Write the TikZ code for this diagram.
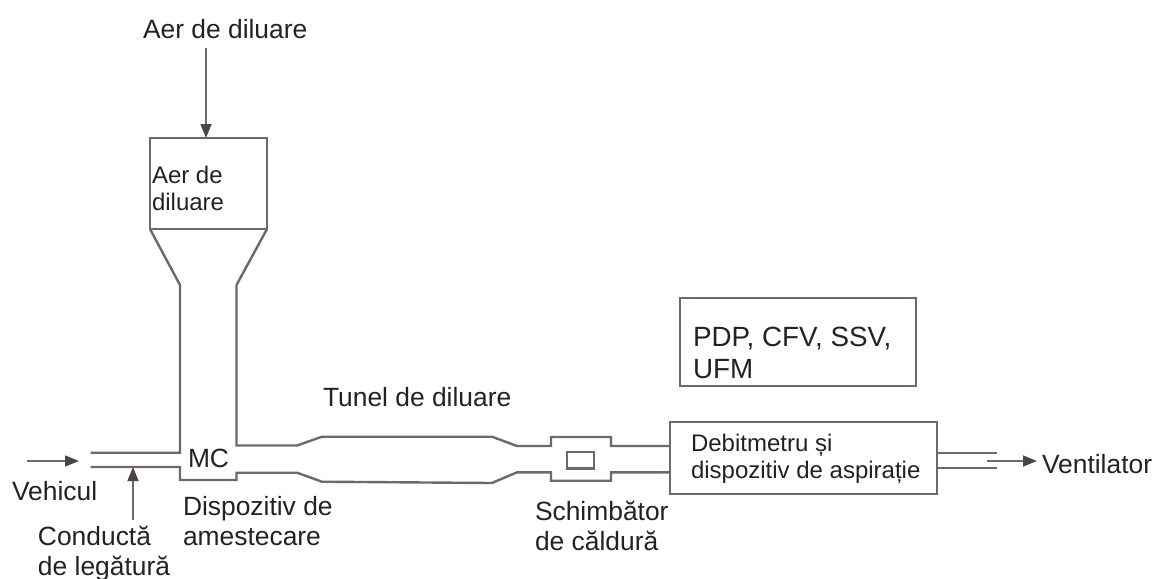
\documentclass[tikz,border=0pt]{standalone}
\usepackage{fontspec}
\setmainfont{Liberation Sans}
\usetikzlibrary{arrows.meta}
\definecolor{wall}{HTML}{6F6865}
\definecolor{tipcol}{HTML}{4A4543}
\definecolor{ink}{HTML}{222222}
\tikzset{
  wallline/.style={draw=wall,line width=1.2pt,line join=miter},
  boxnode/.style={wallline,rectangle,inner sep=0pt,outer sep=0pt},
  flowarrow/.style={draw=wall,line width=1.1pt,-{Stealth[length=7pt,width=5.4pt,inset=0pt,color=tipcol]}},
  biglabel/.style={text=ink,inner sep=0pt,outer sep=0pt,anchor=base west,align=left,font=\fontsize{13.2}{15}\selectfont},
  pdplabel/.style={biglabel,font=\fontsize{13.9}{16}\selectfont},
  smalllabel/.style={biglabel,font=\fontsize{12}{13.3}\selectfont},
}
\begin{document}
\begin{tikzpicture}[x=0.5pt,y=-0.5pt]
\useasboundingbox (0,0) rectangle (1158,579);
% boxes
\node[boxnode,minimum width=58.5pt,minimum height=45.5pt] (airbox) at (208.5,183.5) {};
\node[boxnode,minimum width=118pt,minimum height=44pt] (pdpbox) at (798,342) {};
\node[boxnode,minimum width=133.5pt,minimum height=36pt] (flowbox) at (803.5,458) {};
\node[boxnode,minimum width=13.5pt,minimum height=8.3pt] (hxcore) at (580.5,460) {};
% free ends
\coordinate (airsrc) at (206,48);
\coordinate (vehsrc) at (27,461);
\coordinate (vehend) at (79,461);
\coordinate (linksrc) at (133,520);
\coordinate (linkend) at (133,467);
\coordinate (fanstart) at (987,461);
\coordinate (fanend) at (1037,461);
% funnel and left wall
\draw[wallline] (airbox.south west) -- (180,285) -- (180,452.7) -- (90.5,452.7);
% funnel, right wall, upper wall of tunnel
\draw[wallline] (airbox.south east) -- (236.5,285) -- (236.5,445.5) -- (297,445.5) -- (322,436.7)
  -- (492,436.7) -- (517,446) -- (551,446) -- (551,437) -- (611,437) -- (611,446) -- (flowbox.west |- 0,446);
% lower wall
\draw[wallline] (90.5,467) -- (180,467) -- (180,480) -- (236.5,480) -- (236.5,472.7) -- (297,472.7) -- (322,481.7)
  -- (492,483) -- (517,472.3) -- (551,472.3) -- (551,480.7) -- (611,480.7) -- (611,472.3) -- (flowbox.west |- 0,472.3);
% exhaust
\draw[wallline] (flowbox.east |- 0,452.7) -- (997,452.7);
\draw[wallline] (flowbox.east |- 0,467.7) -- (997,467.7);
% arrows
\draw[flowarrow] (airsrc) -- (airbox.north -| airsrc);
\draw[flowarrow] (vehsrc) -- (vehend);
\draw[flowarrow] (linksrc) -- (linkend);
\draw[flowarrow] (fanstart) -- (fanend);
% labels (multi-line nodes are placed by the baseline of their last line)
\node[biglabel] (lairtop) at (143,38) {Aer de diluare};
\node[smalllabel] (lairbox) at (152,210) {Aer de\\diluare};
\node[biglabel] (lveh) at (12,500) {Vehicul};
\node[biglabel] (llink) at (38,575) {Conductă\\de legătură};
\node[biglabel] (lmc) at (188,467) {MC};
\node[biglabel] (lmix) at (183,545) {Dispozitiv de\\amestecare};
\node[biglabel] (ltun) at (323,406) {Tunel de diluare};
\node[biglabel] (lhx) at (535,550) {Schimbător\\de căldură};
\node[biglabel] (lfan) at (1042,473) {Ventilator};
\node[pdplabel] (lpdp) at (693,378) {PDP, CFV, SSV,\\UFM};
\node[smalllabel] (lflow) at (691,478) {Debitmetru și\\dispozitiv de aspirație};
\end{tikzpicture}
\end{document}
